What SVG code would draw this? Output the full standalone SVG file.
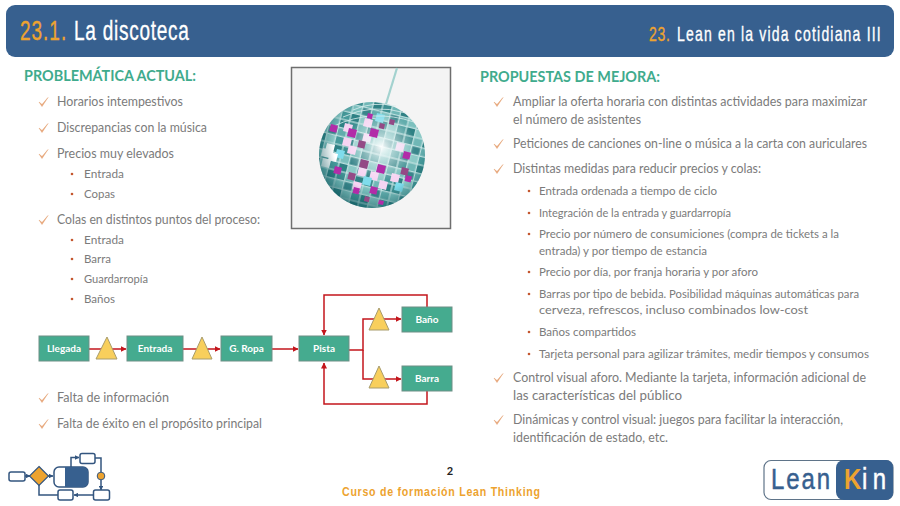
<svg xmlns="http://www.w3.org/2000/svg" xmlns:xlink="http://www.w3.org/1999/xlink" width="900" height="506" viewBox="0 0 900 506">
<style>
text{font-family:"Lato","Open Sans","Liberation Sans",sans-serif}
.h{font-size:14.5px;font-weight:700;fill:#3fab8d}
.m{font-size:13px;fill:#7b7b7b}
.s{font-size:11.5px;fill:#7b7b7b}
.t{font-family:"Liberation Sans","Roboto",sans-serif;fill:#fff;stroke:#fff;stroke-width:.35}
.or{fill:#eda32f;stroke:#eda32f}
.box{fill:#45ab8f;stroke:#6f8f86;stroke-width:1}
.lbl{font-size:10px;font-weight:700;fill:#fff;text-anchor:middle}
.tri{fill:#f8cf5c;stroke:#a89c6c;stroke-width:1}
.con{fill:none;stroke:#c3161c;stroke-width:1.5}
.lg{fill:#fff;stroke:#33557f;stroke-width:1.5}
.ll{fill:none;stroke:#33557f;stroke-width:1.5}
.n{font-family:"Liberation Sans",sans-serif}
</style>
<defs>
<marker id="a" viewBox="0 0 6 6" refX="5.500" refY="3" markerWidth="4" markerHeight="4" orient="auto"><path d="M0 0L6 3L0 6z" fill="#c3161c"/></marker>
<marker id="b" viewBox="0 0 6 6" refX="5.500" refY="3" markerWidth="3" markerHeight="3" orient="auto"><path d="M0 0L6 3L0 6z" fill="#33557f"/></marker>
<path id="c" d="M0 0l3 4.500 6-9-6 7z" fill="#e5a274" stroke="#e5a274" stroke-width=".5"/>
<circle id="d" r="1.300" fill="#c4572f"/>
<pattern id="tiles" width="28.500" height="25.500" patternUnits="userSpaceOnUse" patternTransform="rotate(14 372 155)">
<rect width="28.500" height="25.500" fill="#c4e4e3"/>
<rect x=".6" y=".6" width="8.300" height="7.300" fill="#3f9092"/><rect x="10.100" y=".6" width="8.300" height="7.300" fill="#70b7b6"/><rect x="19.600" y=".6" width="8.300" height="7.300" fill="#2f8184"/>
<rect x=".6" y="9.100" width="8.300" height="7.300" fill="#7cc0be"/><rect x="10.100" y="9.100" width="8.300" height="7.300" fill="#3a868b"/><rect x="19.600" y="9.100" width="8.300" height="7.300" fill="#62acac"/>
<rect x=".6" y="17.600" width="8.300" height="7.300" fill="#2f8184"/><rect x="10.100" y="17.600" width="8.300" height="7.300" fill="#8bc9c6"/><rect x="19.600" y="17.600" width="8.300" height="7.300" fill="#479a9b"/>
</pattern>
<radialGradient id="hi" gradientUnits="userSpaceOnUse" cx="381" cy="147" r="34">
<stop offset="0" stop-color="#fff" stop-opacity=".95"/>
<stop offset=".35" stop-color="#f0fafa" stop-opacity=".6"/>
<stop offset="1" stop-color="#fff" stop-opacity="0"/>
</radialGradient>
<radialGradient id="sh" gradientUnits="userSpaceOnUse" cx="378" cy="146" r="68">
<stop offset=".65" stop-color="#0f5a60" stop-opacity="0"/>
<stop offset="1" stop-color="#0a4f55" stop-opacity=".7"/>
</radialGradient>
</defs>
<rect width="900" height="506" fill="#fff"/>

<g id="header">
<rect x="6" y="5" width="888" height="52" rx="9" fill="#37608f"/>
<text class="t or" transform="translate(20 40) scale(.68 1)" font-size="28" textLength="68" lengthAdjust="spacing">23.1.</text>
<text class="t" transform="translate(74 40) scale(.68 1)" font-size="28" textLength="169" lengthAdjust="spacing">La discoteca</text>
<text class="t or" transform="translate(649 41) scale(.7 1)" font-size="20" textLength="30" lengthAdjust="spacing">23.</text>
<text class="t" transform="translate(677 41) scale(.7 1)" font-size="20" textLength="291" lengthAdjust="spacing">Lean en la vida cotidiana III</text>
</g>

<g id="problematica">
<text class="h" x="24" y="81" textLength="172" lengthAdjust="spacingAndGlyphs">PROBLEMÁTICA ACTUAL:</text>
<use xlink:href="#c" href="#c" x="39" y="102"/><text class="m" x="57" y="106" textLength="126" lengthAdjust="spacingAndGlyphs">Horarios intempestivos</text>
<use xlink:href="#c" href="#c" x="39" y="128"/><text class="m" x="57" y="132" textLength="150" lengthAdjust="spacingAndGlyphs">Discrepancias con la música</text>
<use xlink:href="#c" href="#c" x="39" y="154"/><text class="m" x="57" y="158" textLength="117" lengthAdjust="spacingAndGlyphs">Precios muy elevados</text>
<use xlink:href="#d" href="#d" x="72" y="174"/><text class="s" x="84" y="178" textLength="40" lengthAdjust="spacingAndGlyphs">Entrada</text>
<use xlink:href="#d" href="#d" x="72" y="194"/><text class="s" x="84" y="198" textLength="31" lengthAdjust="spacingAndGlyphs">Copas</text>
<use xlink:href="#c" href="#c" x="39" y="220"/><text class="m" x="57" y="224" textLength="203" lengthAdjust="spacingAndGlyphs">Colas en distintos puntos del proceso:</text>
<use xlink:href="#d" href="#d" x="72" y="240"/><text class="s" x="84" y="244" textLength="40" lengthAdjust="spacingAndGlyphs">Entrada</text>
<use xlink:href="#d" href="#d" x="72" y="259"/><text class="s" x="84" y="263" textLength="27" lengthAdjust="spacingAndGlyphs">Barra</text>
<use xlink:href="#d" href="#d" x="72" y="279"/><text class="s" x="84" y="283" textLength="64" lengthAdjust="spacingAndGlyphs">Guardarropía</text>
<use xlink:href="#d" href="#d" x="72" y="299"/><text class="s" x="84" y="303" textLength="31" lengthAdjust="spacingAndGlyphs">Baños</text>
<use xlink:href="#c" href="#c" x="39" y="398"/><text class="m" x="57" y="402" textLength="112" lengthAdjust="spacingAndGlyphs">Falta de información</text>
<use xlink:href="#c" href="#c" x="39" y="424"/><text class="m" x="57" y="428" textLength="205" lengthAdjust="spacingAndGlyphs">Falta de éxito en el propósito principal</text>
</g>

<g id="discoball">
<rect x="291.500" y="67.500" width="159" height="161" fill="#f4f4f4" stroke="#6e6e6e" stroke-width="1.500"/>
<path d="M397 68L386 104" stroke="#a3d2cf" stroke-width="2.200" fill="none"/>
<circle cx="372" cy="155" r="53" fill="url(#tiles)"/>
<path fill="#f6d4f2" d="M349 145l8 2-2 8-8-2zM364 133l8 2-2 8-8-2zM359 167l8 2-2 8-8-2zM380 180l8 2-2 8-8-2zM392 173l8 2-2 8-8-2zM354 181l8 2-2 8-8-2zM397 142l8 2-2 8-8-2zM365 118l8 2-2 8-8-2zM345 123l8 2-2 8-8-2zM371 171l8 2-2 8-8-2zM344 137l8 2-2 8-8-2z"/>
<path fill="#7fdcec" d="M337 149l8 2-2 8-8-2zM364 176l8 2-2 8-8-2zM396 182l8 2-2 8-8-2zM377 113l8 2-2 8-8-2z"/>
<path fill="#fff" d="M327 143l8 2-2 8-8-2zM323 148l8 2-2 8-8-2zM330 152l8 2-2 8-8-2zM323 158l8 2-2 8-8-2z"/>
<circle cx="372" cy="155" r="53" fill="url(#hi)"/>
<circle cx="372" cy="155" r="53" fill="url(#sh)"/>
<path d="M353 110Q372 101 396 106M343 117Q372 103 406 113M334 126Q372 108 414 122" fill="none" stroke="#d9eeee" stroke-width="1" opacity=".8"/>
<path fill="#b22ca8" d="M331 124l7 1.700-1.700 7-7-1.700zM349 128l8 2-2 8-8-2zM371 128l8 2-2 8-8-2zM368 113l5 1.200-1.200 5-5-1.200zM404 151l7 1.700-1.700 7-7-1.700zM378 164l8 2-2 8-8-2zM335 166l7 1.700-1.700 7-7-1.700zM406 175l6 1.500-1.500 6-6-1.500zM371 186l7 1.700-1.700 7-7-1.700zM354 187l6 1.500-1.500 6-6-1.500zM379 200l5 1-1 4-5-1z"/>
<path fill="#944a86" d="M380 123l5 1.200-1.200 5-5-1.200zM390 119l5 1.200-1.200 5-5-1.200zM359 140l7 1.700-1.700 7-7-1.700zM361 159l8 2-2 8-8-2zM349 172l7 1.700-1.700 7-7-1.700zM402 167l7 1.700-1.700 7-7-1.700zM365 196l5 1.200-1.200 5-5-1.200z"/>
</g>

<g id="connectors">
<path class="con" d="M89 349H126" marker-end="url(#a)"/>
<path class="con" d="M183 349H220" marker-end="url(#a)"/>
<path class="con" d="M272 349H298" marker-end="url(#a)"/>
<path class="con" d="M349 350H363V319H401" marker-end="url(#a)"/>
<path class="con" d="M363 350V379H401" marker-end="url(#a)"/>
<path class="con" d="M427 307V295H324V335" marker-end="url(#a)"/>
<path class="con" d="M427 391V404H324V363" marker-end="url(#a)"/>
</g>
<g id="llegada"><rect class="box" x="39" y="336" width="50" height="25"/><text class="lbl" x="64" y="352">Llegada</text></g>
<g id="tri1"><path class="tri" d="M107 337L117 359H96z"/></g>
<g id="entrada"><rect class="box" x="127" y="336" width="56" height="25"/><text class="lbl" x="155" y="352">Entrada</text></g>
<g id="tri2"><path class="tri" d="M202 337L212 359H192z"/></g>
<g id="gropa"><rect class="box" x="221" y="336" width="51" height="25"/><text class="lbl" x="246.500" y="352">G. Ropa</text></g>
<g id="pista"><rect class="box" x="299" y="336" width="50" height="25"/><text class="lbl" x="324" y="352">Pista</text></g>
<g id="tri3"><path class="tri" d="M379 308L389 330H369z"/></g>
<g id="tri4"><path class="tri" d="M379 366L389 388H369z"/></g>
<g id="bano"><rect class="box" x="402" y="307" width="50" height="25"/><text class="lbl" x="427" y="323">Baño</text></g>
<g id="barra"><rect class="box" x="402" y="366" width="50" height="25"/><text class="lbl" x="427" y="382">Barra</text></g>

<g id="propuestas">
<text class="h" x="480" y="82" textLength="180" lengthAdjust="spacingAndGlyphs">PROPUESTAS DE MEJORA:</text>
<use xlink:href="#c" href="#c" x="494" y="102"/><text class="m" x="513" y="106" textLength="354" lengthAdjust="spacingAndGlyphs">Ampliar la oferta horaria con distintas actividades para maximizar</text>
<text class="m" x="513" y="124" textLength="128" lengthAdjust="spacingAndGlyphs">el número de asistentes</text>
<use xlink:href="#c" href="#c" x="494" y="144"/><text class="m" x="513" y="148" textLength="354" lengthAdjust="spacingAndGlyphs">Peticiones de canciones on-line o música a la carta con auriculares</text>
<use xlink:href="#c" href="#c" x="494" y="169"/><text class="m" x="513" y="173" textLength="248" lengthAdjust="spacingAndGlyphs">Distintas medidas para reducir precios y colas:</text>
<use xlink:href="#d" href="#d" x="529" y="191"/><text class="s" x="539" y="195" textLength="178" lengthAdjust="spacingAndGlyphs">Entrada ordenada a tiempo de ciclo</text>
<use xlink:href="#d" href="#d" x="529" y="213"/><text class="s" x="539" y="217" textLength="192" lengthAdjust="spacingAndGlyphs">Integración de la entrada y guardarropía</text>
<use xlink:href="#d" href="#d" x="529" y="234"/><text class="s" x="539" y="238" textLength="300" lengthAdjust="spacingAndGlyphs">Precio por número de consumiciones (compra de tickets a la</text>
<text class="s" x="539" y="255" textLength="168" lengthAdjust="spacingAndGlyphs">entrada) y por tiempo de estancia</text>
<use xlink:href="#d" href="#d" x="529" y="272"/><text class="s" x="539" y="276" textLength="219" lengthAdjust="spacingAndGlyphs">Precio por día, por franja horaria y por aforo</text>
<use xlink:href="#d" href="#d" x="529" y="294"/><text class="s" x="539" y="298" textLength="320" lengthAdjust="spacingAndGlyphs">Barras por tipo de bebida. Posibilidad máquinas automáticas para</text>
<text class="s" x="539" y="314" textLength="269" lengthAdjust="spacingAndGlyphs">cerveza, refrescos, incluso combinados low-cost</text>
<use xlink:href="#d" href="#d" x="529" y="332"/><text class="s" x="539" y="336" textLength="97" lengthAdjust="spacingAndGlyphs">Baños compartidos</text>
<use xlink:href="#d" href="#d" x="529" y="354"/><text class="s" x="539" y="358" textLength="330" lengthAdjust="spacingAndGlyphs">Tarjeta personal para agilizar trámites, medir tiempos y consumos</text>
<use xlink:href="#c" href="#c" x="494" y="378"/><text class="m" x="513" y="382" textLength="353" lengthAdjust="spacingAndGlyphs">Control visual aforo. Mediante la tarjeta, información adicional de</text>
<text class="m" x="513" y="400" textLength="169" lengthAdjust="spacingAndGlyphs">las características del público</text>
<use xlink:href="#c" href="#c" x="494" y="420"/><text class="m" x="513" y="424" textLength="330" lengthAdjust="spacingAndGlyphs">Dinámicas y control visual: juegos para facilitar la interacción,</text>
<text class="m" x="513" y="442" textLength="155" lengthAdjust="spacingAndGlyphs">identificación de estado, etc.</text>
</g>

<g id="footer">
<text x="450" y="475" font-size="11" font-weight="700" fill="#222" text-anchor="middle">2</text>
<text class="n" transform="translate(342 496) scale(.85 1)" font-size="12.500" font-weight="700" fill="#eda32f" textLength="233" lengthAdjust="spacing">Curso de formación Lean Thinking</text>
</g>

<g id="logo-flow">
<path class="ll" d="M25 476H30" marker-end="url(#b)"/>
<path class="ll" d="M48 476H53" marker-end="url(#b)"/>
<path class="ll" d="M71 467V457.500H79" marker-end="url(#b)"/>
<path class="ll" d="M95 458H101V472"/>
<path class="ll" d="M101 480V490" marker-end="url(#b)"/>
<path class="ll" d="M93 495H74" marker-end="url(#b)"/>
<path class="ll" d="M58 495H39V484"/>
<rect class="lg" x="9" y="472" width="16" height="9" rx="2"/>
<path d="M39 466.500L48.500 476L39 485.500L29.500 476z" fill="#eda32f" stroke="#33557f" stroke-width="1.200"/>
<rect class="lg" x="54" y="467" width="34" height="20" rx="5"/>
<path d="M65 467H83a5 5 0 0 1 5 5V482a5 5 0 0 1-5 5H65z" fill="#37608f"/>
<rect class="lg" x="80" y="453.500" width="15" height="10" rx="2"/>
<circle cx="101" cy="476" r="3.800" fill="#eda32f" stroke="#33557f"/>
<rect class="lg" x="58" y="490" width="15" height="10" rx="2"/>
<rect class="lg" x="93.500" y="490" width="16" height="10" rx="2"/>
</g>

<g id="logo-leankin">
<rect x="764" y="460.500" width="129" height="39" rx="7" fill="#fff" stroke="#5f7489" stroke-width="1.200"/>
<path d="M844 460H886a7 7 0 0 1 7 7V493a7 7 0 0 1-7 7H844a8 8 0 0 1-8-8V468a8 8 0 0 1 8-8z" fill="#37608f"/>
<text class="n" transform="translate(771 489) scale(.8 1)" font-size="30" fill="#37608f" stroke="#37608f" stroke-width=".5" textLength="74" lengthAdjust="spacing">Lean</text>
<text class="n" transform="translate(844 489) scale(.8 1)" font-size="30" font-weight="700" fill="#eda32f">K</text>
<text class="n" transform="translate(862 489) scale(.8 1)" font-size="30" fill="#fff" stroke="#fff" stroke-width=".5" textLength="30" lengthAdjust="spacing">in</text>
</g>
</svg>
